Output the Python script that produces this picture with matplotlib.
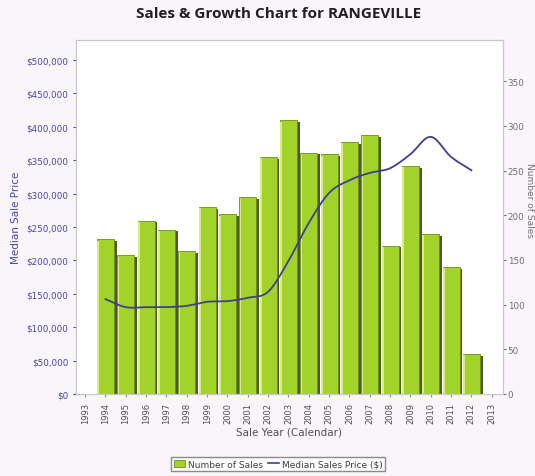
import numpy as np
import matplotlib
matplotlib.use("Agg")
import matplotlib.pyplot as plt
from matplotlib.ticker import FuncFormatter, MultipleLocator
from matplotlib.patches import Patch
from matplotlib.lines import Line2D

years = [1994, 1995, 1996, 1997, 1998, 1999, 2000, 2001, 2002, 2003,
         2004, 2005, 2006, 2007, 2008, 2009, 2010, 2011, 2012]
num_sales = [173, 155, 194, 184, 160, 209, 201, 220, 265, 306,
             270, 268, 282, 290, 166, 255, 179, 142, 45]
median_price = [142000, 130000, 130000, 130000, 132000, 138000, 139000, 144000, 153000, 199000,
                256000, 301000, 320000, 331000, 338000, 359000, 385000, 355000, 335000]
year_ticks = list(range(1993, 2014))

bar_green = "#a2d32a"
bar_edge = "#6f8f10"
shadow = "#4f5638"
line_col = "#3f3f90"
left_col = "#4848a0"
right_col = "#707070"


def smooth(x, y, n=20):
    """Cubic Hermite (Catmull-Rom) path through the points, for drawing."""
    x = np.asarray(x, float)
    y = np.asarray(y, float)
    m = np.gradient(y, x)
    xs, ys = [], []
    for i in range(len(x) - 1):
        t = np.linspace(0, 1, n, endpoint=False)
        h = x[i + 1] - x[i]
        h00 = 2 * t**3 - 3 * t**2 + 1
        h10 = t**3 - 2 * t**2 + t
        h01 = -2 * t**3 + 3 * t**2
        h11 = t**3 - t**2
        xs.append(x[i] + t * h)
        ys.append(h00 * y[i] + h10 * h * m[i] + h01 * y[i + 1] + h11 * h * m[i + 1])
    xs.append([x[-1]])
    ys.append([y[-1]])
    return np.concatenate(xs), np.concatenate(ys)


fig = plt.figure(figsize=(5.35, 4.77), dpi=100, facecolor="#f9f5fa")
ax2 = fig.add_axes([0.142, 0.172, 0.798, 0.742])  # counts (right)
ax = ax2.twinx()
ax.yaxis.tick_left()
ax.yaxis.set_label_position("left")
ax2.yaxis.tick_right()
ax2.yaxis.set_label_position("right")
ax2.set_facecolor("white")

# bars with a drop shadow and a light left edge
w = 0.84
ax2.bar(np.array(years) + 0.14, np.array(num_sales) - 2, width=w, color=shadow,
        linewidth=0, zorder=1)
ax2.bar(years, num_sales, width=w, color=bar_green, edgecolor=bar_edge,
        linewidth=0.6, zorder=2)
ax2.bar(np.array(years) - w / 2 + 0.06, np.array(num_sales) - 1.5, width=0.09,
        color="#d8f07a", linewidth=0, zorder=3)

# median price line
sx, sy = smooth(years, median_price)
ax.plot(sx, sy, color=line_col, lw=1.3, zorder=4)

ax2.set_xlim(1992.55, 2013.55)
ax2.set_ylim(0, 396)
ax.set_ylim(0, 530000)

ax.yaxis.set_major_locator(MultipleLocator(50000))
ax.yaxis.set_major_formatter(FuncFormatter(lambda v, p: f"${v:,.0f}"))
ax2.yaxis.set_major_locator(MultipleLocator(50))
ax2.set_xticks(year_ticks)
ax2.set_xticklabels([str(y) for y in year_ticks], rotation=90, fontsize=6,
                    color="#505050")

ax.tick_params(axis="y", labelsize=6.3, colors=left_col, length=2)
ax2.tick_params(axis="y", labelsize=6.3, colors=right_col, length=2, pad=1.5)
ax2.tick_params(axis="x", length=2, colors="#909090", labelcolor="#505050")

for a in (ax, ax2):
    for s in a.spines.values():
        s.set_color("#c8c8c8")
        s.set_linewidth(0.8)

ax.set_ylabel("Median Sale Price", color=left_col, fontsize=7.5, labelpad=4)
ax2.set_ylabel("Number of Sales", color=right_col, fontsize=6.5, rotation=270,
               va="center", ha="center")
ax2.yaxis.set_label_coords(1.063, 0.55)
ax2.set_xlabel("Sale Year (Calendar)", color="#505050", fontsize=7.5, labelpad=3)

fig.suptitle("Sales & Growth Chart for RANGEVILLE", fontsize=11,
             fontweight="bold", color="#202020", x=0.52, y=0.985,
             family=["Open Sans", "DejaVu Sans"])

handles = [Patch(facecolor=bar_green, edgecolor=bar_edge, linewidth=0.6),
           Line2D([], [], color=line_col, lw=1.2)]
leg = fig.legend(handles, ["Number of Sales", "Median Sales Price ($)"],
                 loc="lower center", bbox_to_anchor=(0.52, 0.0), ncol=2,
                 fontsize=6.5, frameon=True, fancybox=False, handlelength=1.2,
                 handleheight=0.9, handletextpad=0.3, columnspacing=0.6,
                 borderpad=0.3, facecolor="#ffffff", edgecolor="#707070")
for t in leg.get_texts():
    t.set_color("#404040")

fig.savefig("out.png", dpi=100, facecolor=fig.get_facecolor())
